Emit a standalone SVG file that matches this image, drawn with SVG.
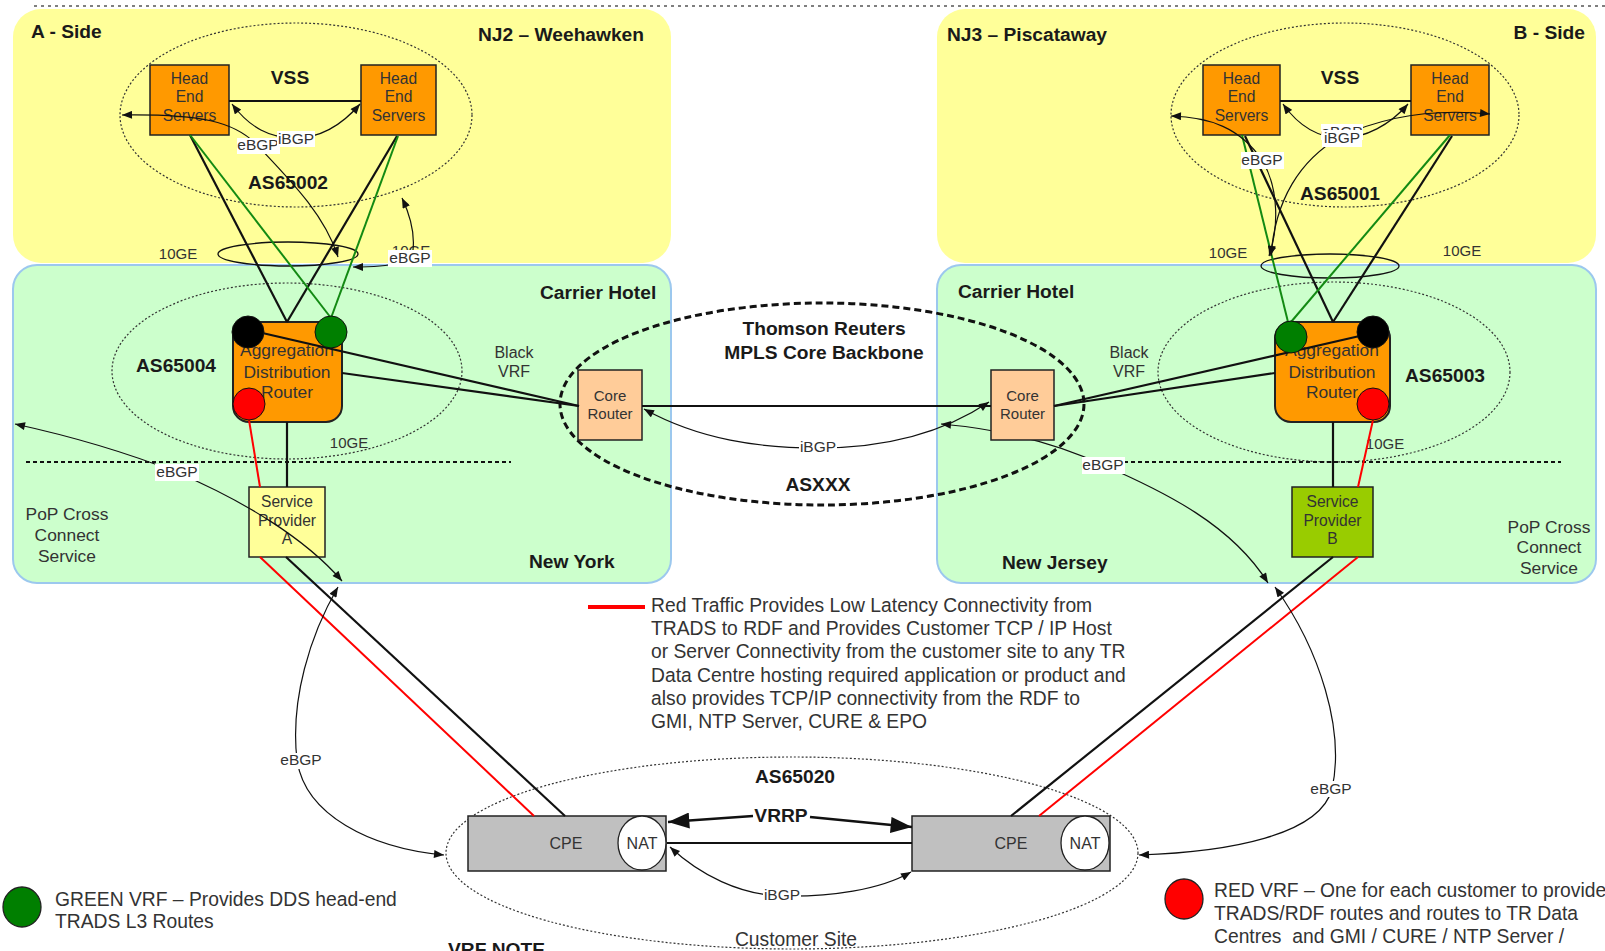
<svg xmlns="http://www.w3.org/2000/svg" width="1605" height="951" viewBox="0 0 1605 951">
  <defs>
    <style>
      .t { font-family: "Liberation Sans", Arial, sans-serif; fill: #333; }
      .b { font-family: "Liberation Sans", Arial, sans-serif; font-weight: bold; fill: #1a1a1a; font-size: 19.2px; }
      .s14 { font-size: 15.5px; }
      .s15 { font-size: 15px; }
      .s155 { font-size: 15.6px; }
      .s16 { font-size: 16px; }
      .s17 { font-size: 17.4px; }
      .s19 { font-size: 19.3px; }
      .mid { text-anchor: middle; }
      .end { text-anchor: end; }
      .zone-y { fill: #ffff99; }
      .zone-g { fill: #ccffcc; stroke: #9cc8ee; stroke-width: 2; }
      .dotted { fill: none; stroke: #333; stroke-width: 1.2; stroke-dasharray: 2 2; }
      .ring { fill: none; stroke: #111; stroke-width: 1.3; }
      .head { fill: #ff9900; stroke: #222; stroke-width: 1.5; }
      .agg { fill: #ff9900; stroke: #222; stroke-width: 2; }
      .core { fill: #ffcc99; stroke: #222; stroke-width: 1.5; }
      .cpe { fill: #c0c0c0; stroke: #222; stroke-width: 1.5; }
      .nat { fill: #fff; stroke: #222; stroke-width: 1.3; }
      .blk { stroke: #111; stroke-width: 2.2; fill: none; }
      .grn { stroke: #138a13; stroke-width: 2; fill: none; }
      .red { stroke: #ff0000; stroke-width: 2; fill: none; }
      .bgp { stroke: #111; stroke-width: 1.2; fill: none; marker-start: url(#ah); marker-end: url(#ah); }
      .lblbg { fill: #fff; }
    </style>
    <marker id="ah" viewBox="0 0 10 8" refX="10" refY="4" markerWidth="11" markerHeight="8" markerUnits="userSpaceOnUse" orient="auto-start-reverse">
      <path d="M0,0 L10,4 L0,8 z" fill="#111"/>
    </marker>
    <marker id="big" viewBox="0 0 16 12" refX="16" refY="6" markerWidth="22" markerHeight="16" markerUnits="userSpaceOnUse" orient="auto">
      <path d="M0,0 L16,6 L0,12 z" fill="#111"/>
    </marker>
  </defs>

  <!-- page border line -->
  <line x1="34" y1="6" x2="1605" y2="6" stroke="#555" stroke-width="1.5" stroke-dasharray="3 4"/>

  <!-- site zones -->
  <g id="zones">
    <rect class="zone-y" x="13" y="9" width="658" height="254" rx="28"/>
    <rect class="zone-y" x="937" y="9" width="659" height="254" rx="28"/>
    <rect class="zone-g" x="13" y="265" width="658" height="318" rx="24"/>
    <rect class="zone-g" x="937" y="265" width="659" height="318" rx="24"/>
  </g>

  <!-- autonomous system boundaries -->
  <g id="as-boundaries">
    <ellipse class="dotted" cx="296" cy="115" rx="176" ry="92"/>
    <ellipse class="dotted" cx="1345" cy="115" rx="174" ry="92"/>
    <ellipse class="dotted" cx="287" cy="371" rx="175" ry="88"/>
    <ellipse class="dotted" cx="1334" cy="372" rx="176" ry="90"/>
    <ellipse cx="822" cy="404" rx="262" ry="101" fill="none" stroke="#111" stroke-width="3" stroke-dasharray="7 4"/>
    <ellipse class="dotted" cx="792" cy="853" rx="346" ry="96"/>
    <ellipse class="ring" cx="288" cy="254" rx="70" ry="12"/>
    <ellipse class="ring" cx="1330" cy="266" rx="69" ry="12"/>
    <line x1="26" y1="462" x2="511" y2="462" stroke="#111" stroke-width="2.2" stroke-dasharray="4 3"/>
    <line x1="1082" y1="462" x2="1561" y2="462" stroke="#111" stroke-width="2.2" stroke-dasharray="4 3"/>
  </g>

  <!-- zone and AS labels -->
  <g id="labels">
    <text class="b" x="31" y="38">A - Side</text>
    <text class="b" x="478" y="41">NJ2 – Weehawken</text>
    <text class="b" x="947" y="41">NJ3 – Piscataway</text>
    <text class="b end" x="1585" y="39">B - Side</text>
    <text class="b mid" x="290" y="84">VSS</text>
    <text class="b mid" x="1340" y="84">VSS</text>
    <text class="b mid" x="288" y="189">AS65002</text>
    <text class="b mid" x="1340" y="200">AS65001</text>
    <text class="b" x="136" y="372">AS65004</text>
    <text class="b" x="1405" y="382">AS65003</text>
    <text class="b" x="540" y="299">Carrier Hotel</text>
    <text class="b" x="958" y="298">Carrier Hotel</text>
    <text class="b mid" x="824" y="335">Thomson Reuters</text>
    <text class="b mid" x="824" y="359">MPLS Core Backbone</text>
    <text class="b mid" x="818" y="491">ASXXX</text>
    <text class="b" x="529" y="568">New York</text>
    <text class="b" x="1002" y="569">New Jersey</text>
    <text class="b mid" x="795" y="783">AS65020</text>
    <text class="b" x="448" y="956">VRF NOTE</text>

    <text class="t s15 mid" x="178" y="259">10GE</text>
    <text class="t s15 mid" x="411" y="256">10GE</text>
    <text class="t s15 mid" x="349" y="448">10GE</text>
    <text class="t s15 mid" x="1228" y="258">10GE</text>
    <text class="t s15 mid" x="1462" y="256">10GE</text>
    <text class="t s15 mid" x="1385" y="449">10GE</text>

    <text class="t s16 mid" x="514" y="358">Black</text>
    <text class="t s16 mid" x="514" y="377">VRF</text>
    <text class="t s16 mid" x="1129" y="358">Black</text>
    <text class="t s16 mid" x="1129" y="377">VRF</text>

    <text class="t s17 mid" x="67" y="520">PoP Cross</text>
    <text class="t s17 mid" x="67" y="541">Connect</text>
    <text class="t s17 mid" x="67" y="562">Service</text>
    <text class="t s17 mid" x="1549" y="533">PoP Cross</text>
    <text class="t s17 mid" x="1549" y="553">Connect</text>
    <text class="t s17 mid" x="1549" y="574">Service</text>

    <text class="t s19 mid" x="796" y="946">Customer Site</text>
  </g>

  <!-- BGP session passing behind the New Jersey core router -->
  <g id="bgp-under">
    <path class="bgp" d="M941,424 C1010,430 1060,445 1103,465 C1165,492 1232,525 1268,583"/>
  </g>

  <!-- head end servers -->
  <g id="he-a1">
    <rect class="head" x="150" y="65" width="79" height="70"/>
    <text class="t s155 mid" x="189.5" y="84">Head</text>
    <text class="t s155 mid" x="189.5" y="102">End</text>
    <text class="t s155 mid" x="189.5" y="121">Servers</text>
  </g>
  <g id="he-a2">
    <rect class="head" x="361" y="65" width="75" height="70"/>
    <text class="t s155 mid" x="398.5" y="84">Head</text>
    <text class="t s155 mid" x="398.5" y="102">End</text>
    <text class="t s155 mid" x="398.5" y="121">Servers</text>
  </g>
  <g id="he-b1">
    <rect class="head" x="1203" y="65" width="77" height="70"/>
    <text class="t s155 mid" x="1241.5" y="84">Head</text>
    <text class="t s155 mid" x="1241.5" y="102">End</text>
    <text class="t s155 mid" x="1241.5" y="121">Servers</text>
  </g>
  <g id="he-b2">
    <rect class="head" x="1411" y="65" width="78" height="70"/>
    <text class="t s155 mid" x="1450" y="84">Head</text>
    <text class="t s155 mid" x="1450" y="102">End</text>
    <text class="t s155 mid" x="1450" y="121">Servers</text>
  </g>

  <!-- aggregation distribution routers -->
  <g id="agg-a">
    <rect class="agg" x="233" y="322" width="109" height="100" rx="16"/>
    <text class="t s17 mid" x="287" y="356">Aggregation</text>
    <text class="t s17 mid" x="287" y="378">Distribution</text>
    <text class="t s17 mid" x="287" y="398">Router</text>
  </g>
  <g id="agg-b">
    <rect class="agg" x="1275" y="322" width="115" height="100" rx="16"/>
    <text class="t s17 mid" x="1332" y="356">Aggregation</text>
    <text class="t s17 mid" x="1332" y="378">Distribution</text>
    <text class="t s17 mid" x="1332" y="398">Router</text>
  </g>

  <!-- service providers -->
  <g id="sp-a">
    <rect x="249" y="487" width="76" height="70" fill="#ffff99" stroke="#222" stroke-width="1.5"/>
    <text class="t s155 mid" x="287" y="507">Service</text>
    <text class="t s155 mid" x="287" y="526">Provider</text>
    <text class="t s155 mid" x="287" y="544">A</text>
  </g>
  <g id="sp-b">
    <rect x="1292" y="487" width="81" height="70" fill="#99cc00" stroke="#222" stroke-width="1.5"/>
    <text class="t s155 mid" x="1332.5" y="507">Service</text>
    <text class="t s155 mid" x="1332.5" y="526">Provider</text>
    <text class="t s155 mid" x="1332.5" y="544">B</text>
  </g>

  <!-- MPLS core routers -->
  <g id="core-a">
    <rect class="core" x="578" y="370" width="64" height="70"/>
    <text class="t s15 mid" x="610" y="401">Core</text>
    <text class="t s15 mid" x="610" y="419">Router</text>
  </g>
  <g id="core-b">
    <rect class="core" x="991" y="370" width="63" height="70"/>
    <text class="t s15 mid" x="1022.5" y="401">Core</text>
    <text class="t s15 mid" x="1022.5" y="419">Router</text>
  </g>

  <!-- customer premises equipment -->
  <g id="cpe-a">
    <rect class="cpe" x="468" y="816" width="198" height="55"/>
    <ellipse class="nat" cx="642" cy="843" rx="24" ry="27"/>
    <text class="t s16 mid" x="566" y="849">CPE</text>
    <text class="t s16 mid" x="642" y="849">NAT</text>
  </g>
  <g id="cpe-b">
    <rect class="cpe" x="912" y="816" width="198" height="55"/>
    <ellipse class="nat" cx="1085" cy="843" rx="24" ry="27"/>
    <text class="t s16 mid" x="1011" y="849">CPE</text>
    <text class="t s16 mid" x="1085" y="849">NAT</text>
  </g>

  <!-- links -->
  <g id="connectors">
    <line class="blk" x1="229" y1="101" x2="361" y2="101"/>
    <line class="blk" x1="1280" y1="101" x2="1411" y2="101"/>

    <line class="blk" x1="190" y1="135" x2="287" y2="322"/>
    <line class="blk" x1="397" y1="136" x2="287" y2="322"/>
    <line class="grn" x1="190" y1="135" x2="331" y2="318"/>
    <line class="grn" x1="398" y1="136" x2="331" y2="318"/>

    <line class="blk" x1="1245" y1="136" x2="1333" y2="322"/>
    <line class="blk" x1="1452" y1="136" x2="1333" y2="322"/>
    <line class="grn" x1="1242" y1="135" x2="1288" y2="322"/>
    <line class="grn" x1="1450" y1="135" x2="1291" y2="322"/>

    <line class="blk" x1="258" y1="332" x2="579" y2="406" stroke-width="2.5"/>
    <line class="blk" x1="342" y1="373" x2="579" y2="406" stroke-width="2.5"/>
    <line class="blk" x1="1364" y1="335" x2="1054" y2="406" stroke-width="2.5"/>
    <line class="blk" x1="1275" y1="373" x2="1054" y2="406" stroke-width="2.5"/>

    <line class="blk" x1="642" y1="406" x2="991" y2="406" stroke-width="3"/>

    <line class="blk" x1="287" y1="422" x2="287" y2="487"/>
    <line class="red" x1="249" y1="420" x2="260" y2="487"/>
    <line class="red" x1="260" y1="557" x2="534" y2="816"/>
    <line class="blk" x1="286" y1="557" x2="565" y2="816" stroke-width="2.5"/>

    <line class="blk" x1="1333" y1="422" x2="1333" y2="487"/>
    <line class="red" x1="1373" y1="420" x2="1358" y2="487"/>
    <line class="red" x1="1358" y1="557" x2="1039" y2="816"/>
    <line class="blk" x1="1333" y1="557" x2="1011" y2="816" stroke-width="2.5"/>

    <line class="blk" x1="667" y1="843" x2="912" y2="843" stroke-width="2.5"/>
    <path d="M753,816 L668,822" stroke="#111" stroke-width="2.5" fill="none" marker-end="url(#big)"/>
    <path d="M810,817 L912,827" stroke="#111" stroke-width="2.5" fill="none" marker-end="url(#big)"/>
  </g>

  <!-- VRF ports on the aggregation routers -->
  <g id="vrf-ports">
    <circle cx="248" cy="332" r="16" fill="#000" stroke="#111"/>
    <circle cx="331" cy="332" r="16" fill="#007f00" stroke="#111"/>
    <circle cx="249" cy="404" r="16" fill="#ff0000" stroke="#111"/>
    <circle cx="1291" cy="337" r="16" fill="#007f00" stroke="#111"/>
    <circle cx="1373" cy="332" r="16" fill="#000" stroke="#111"/>
    <circle cx="1373" cy="404" r="16" fill="#ff0000" stroke="#111"/>
  </g>

  <!-- BGP sessions -->
  <g id="bgp">
    <path class="bgp" d="M122,115 C200,114 235,121 258,146 C290,180 325,215 338,257"/>
    <path class="bgp" d="M232,104 C250,128 270,138 295,138 C320,138 342,125 360,104"/>
    <path class="bgp" d="M402,198 C410,215 415,232 413,250 C411,262 395,267 353,267"/>
    <path class="bgp" d="M15,424 C70,436 120,450 176,472 C242,500 305,538 342,581"/>
    <path class="bgp" d="M338,587 C310,635 290,700 297,760 C305,815 370,848 444,855"/>
    <path class="bgp" d="M644,409 C700,440 760,448 818,448 C880,448 940,435 989,402"/>
    <path class="bgp" d="M1271,256 C1275,200 1300,160 1340,137 C1380,118 1430,108 1490,114"/>
    <path class="bgp" d="M1171,116 C1210,117 1240,128 1262,160 C1280,190 1278,230 1269,256"/>
    <path class="bgp" d="M1283,104 C1300,128 1320,138 1342,138 C1365,138 1390,125 1408,104"/>
    <path class="bgp" d="M1275,587 C1320,650 1345,730 1332,789 C1320,835 1230,852 1139,855"/>
    <path class="bgp" d="M670,847 C700,875 740,895 782,896 C830,897 880,890 911,872"/>

    <rect class="lblbg" x="237" y="138" width="43" height="16"/>
    <text class="t s14 mid" x="258" y="150">eBGP</text>
    <rect class="lblbg" x="277" y="131" width="38" height="16"/>
    <text class="t s14 mid" x="296" y="144">iBGP</text>
    <rect class="lblbg" x="388" y="250" width="44" height="17"/>
    <text class="t s14 mid" x="410" y="263">eBGP</text>
    <rect class="lblbg" x="155" y="464" width="44" height="17"/>
    <text class="t s14 mid" x="177" y="477">eBGP</text>
    <rect class="lblbg" x="279" y="753" width="44" height="16"/>
    <text class="t s14 mid" x="301" y="765">eBGP</text>
    <rect class="lblbg" x="799" y="440" width="38" height="16"/>
    <text class="t s14 mid" x="818" y="452">iBGP</text>
    <rect class="lblbg" x="1082" y="457" width="43" height="17"/>
    <text class="t s14 mid" x="1103" y="470">eBGP</text>
    <rect class="lblbg" x="1321" y="124" width="42" height="16"/>
    <text class="t s14 mid" x="1342" y="137">eBGP</text>
    <rect class="lblbg" x="1322" y="130" width="40" height="17"/>
    <text class="t s14 mid" x="1342" y="143">iBGP</text>
    <rect class="lblbg" x="1241" y="152" width="43" height="17"/>
    <text class="t s14 mid" x="1262" y="165">eBGP</text>
    <rect class="lblbg" x="1309" y="781" width="44" height="16"/>
    <text class="t s14 mid" x="1331" y="794">eBGP</text>
    <rect class="lblbg" x="763" y="887" width="38" height="16"/>
    <text class="t s14 mid" x="782" y="900">iBGP</text>

    <text class="b mid" x="781" y="822">VRRP</text>
  </g>

  <!-- legend -->
  <g id="legend">
    <line x1="588" y1="607" x2="645" y2="607" stroke="#ff0000" stroke-width="4"/>
    <text class="t s19" x="651" y="612">Red Traffic Provides Low Latency Connectivity from</text>
    <text class="t s19" x="651" y="635">TRADS to RDF and Provides Customer TCP / IP Host</text>
    <text class="t s19" x="651" y="658">or Server Connectivity from the customer site to any TR</text>
    <text class="t s19" x="651" y="682">Data Centre hosting required application or product and</text>
    <text class="t s19" x="651" y="705">also provides TCP/IP connectivity from the RDF to</text>
    <text class="t s19" x="651" y="728">GMI, NTP Server, CURE &amp; EPO</text>

    <ellipse cx="22" cy="907" rx="19" ry="20" fill="#007f00" stroke="#222" stroke-width="1.3"/>
    <text class="t s19" x="55" y="906">GREEN VRF – Provides DDS head-end</text>
    <text class="t s19" x="55" y="928">TRADS L3 Routes</text>

    <ellipse cx="1184" cy="899" rx="19" ry="20" fill="#ff0000" stroke="#222" stroke-width="1.3"/>
    <text class="t s19" x="1214" y="897">RED VRF – One for each customer to provide</text>
    <text class="t s19" x="1214" y="920">TRADS/RDF routes and routes to TR Data</text>
    <text class="t s19" x="1214" y="943">Centres&#160; and GMI / CURE / NTP Server /</text>
  </g>
</svg>
